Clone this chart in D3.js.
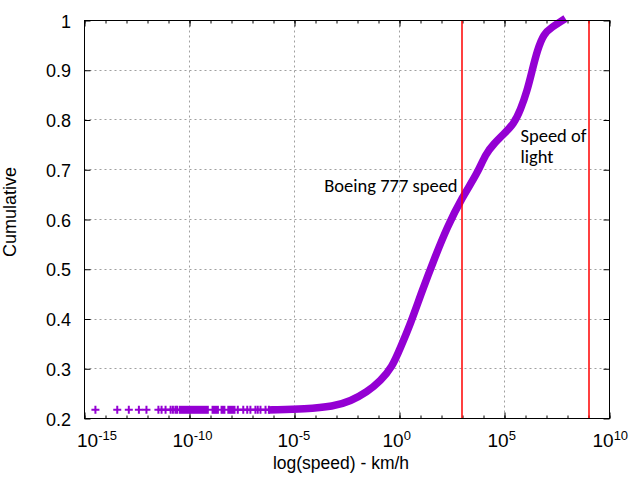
<!DOCTYPE html>
<html>
<head>
<meta charset="utf-8">
<script src="https://cdn.jsdelivr.net/npm/d3@7"></script>
<style>
  body { margin: 0; background: #fff; }
</style>
</head>
<body>
<script>
// cumulative curve, x read as log10(speed in km/h)
var curveLogSpeed = [-6.06, -4.5, -3.14, -2.33, -1.54, -0.9, -0.35, 0.05, 0.52, 1.08, 1.63, 2.27, 2.99, 3.7, 4.1, 4.49, 4.97, 5.44, 5.76, 6.08, 6.32, 6.56, 6.87, 7.27, 7.75];
var curveCum = [0.2175, 0.219, 0.224, 0.235, 0.253, 0.276, 0.303, 0.343, 0.39, 0.457, 0.518, 0.585, 0.645, 0.692, 0.732, 0.752, 0.772, 0.792, 0.82, 0.859, 0.9, 0.94, 0.974, 0.987, 1.0];

// lone points at the slow end (all at the same cumulative level)
var pointLogSpeed = [-14.48, -13.44, -12.89, -12.41, -12.05, -11.48, -11.33, -11.14, -10.9, -10.79, -10.67, -10.59, -7.7, -7.44, -7.25, -7.1, -6.86, -6.75, -6.62, -6.38, -6.22];
var pointCum = 0.2175;
// runs where the points are packed solid
var denseFrom = [-10.51, -8.95, -8.52, -8.2];
var denseTo = [-9.08, -8.6, -8.29, -7.81];

var boeingSpeed = 905;       // km/h
var lightSpeed = 1.08e9;     // km/h

var xTickExp = [-15, -10, -5, 0, 5, 10];
var yTicks = [0.2, 0.3, 0.4, 0.5, 0.6, 0.7, 0.8, 0.9, 1];

var width = 640, height = 480;
var pLeft = 84.5, pRight = 609.5, pTop = 20.5, pBottom = 418.5;
var purple = '#9400d3';

var svg = d3.select('body').append('svg')
    .attr('width', width)
    .attr('height', height)
    .style('font-family', '"Liberation Sans", Arial, sans-serif');

svg.append('rect').attr('width', width).attr('height', height).attr('fill', '#fff');

var xScale = d3.scaleLog().domain([1e-15, 1e10]).range([pLeft, pRight]);
var yScale = d3.scaleLinear().domain([0.2, 1]).range([pBottom, pTop]);

var majorX = xTickExp.map(function(e) { return Math.pow(10, e); });
var minorX = d3.range(-15, 11).map(function(e) { return Math.pow(10, e); });

function crisp(v) { return Math.round(v - 0.5) + 0.5; }

// dashed grid
var grid = svg.append('g').attr('stroke', '#a0a0a0').attr('stroke-dasharray', '2,3').attr('stroke-width', 1);
grid.selectAll('line.gx')
    .data(majorX.slice(1, -1))
    .enter().append('line')
    .attr('class', 'gx')
    .attr('x1', function(d) { return crisp(xScale(d)); })
    .attr('x2', function(d) { return crisp(xScale(d)); })
    .attr('y1', pTop).attr('y2', pBottom);
grid.selectAll('line.gy')
    .data(yTicks.slice(1, -1))
    .enter().append('line')
    .attr('class', 'gy')
    .attr('y1', function(d) { return crisp(yScale(d)); })
    .attr('y2', function(d) { return crisp(yScale(d)); })
    .attr('x1', pLeft).attr('x2', pRight);

// ticks on all four sides, pointing inward
function tickAxis(axis, g) {
    g.call(axis);
    g.select('.domain').remove();
    g.selectAll('line').attr('stroke', '#000');
    g.selectAll('text').remove();
}
tickAxis(d3.axisBottom(xScale).tickValues(minorX).tickSize(-3), svg.append('g').attr('transform', 'translate(0,' + pBottom + ')'));
tickAxis(d3.axisBottom(xScale).tickValues(majorX).tickSize(-6), svg.append('g').attr('transform', 'translate(0,' + pBottom + ')'));
tickAxis(d3.axisTop(xScale).tickValues(minorX).tickSize(-3), svg.append('g').attr('transform', 'translate(0,' + pTop + ')'));
tickAxis(d3.axisTop(xScale).tickValues(majorX).tickSize(-6), svg.append('g').attr('transform', 'translate(0,' + pTop + ')'));
tickAxis(d3.axisLeft(yScale).tickValues(yTicks).tickSize(-6), svg.append('g').attr('transform', 'translate(' + pLeft + ',0)'));
tickAxis(d3.axisRight(yScale).tickValues(yTicks).tickSize(-6), svg.append('g').attr('transform', 'translate(' + pRight + ',0)'));

// the data
var plot = svg.append('g');
var yPts = yScale(pointCum);

plot.append('line')
    .attr('x1', xScale(Math.pow(10, -11.5))).attr('x2', xScale(Math.pow(10, curveLogSpeed[0])))
    .attr('y1', yPts).attr('y2', yPts)
    .attr('stroke', purple).attr('stroke-width', 2);

plot.selectAll('rect.dense')
    .data(denseFrom)
    .enter().append('rect')
    .attr('class', 'dense')
    .attr('x', function(d) { return xScale(Math.pow(10, d)); })
    .attr('width', function(d, i) { return xScale(Math.pow(10, denseTo[i])) - xScale(Math.pow(10, d)); })
    .attr('y', yPts - 4).attr('height', 8)
    .attr('fill', purple);

plot.selectAll('path.pt')
    .data(pointLogSpeed)
    .enter().append('path')
    .attr('class', 'pt')
    .attr('transform', function(d) { return 'translate(' + xScale(Math.pow(10, d)) + ',' + yPts + ')'; })
    .attr('d', 'M-4,0H4M0,-4V4')
    .attr('stroke', purple).attr('stroke-width', 2);

var line = d3.line()
    .x(function(d, i) { return xScale(Math.pow(10, curveLogSpeed[i])); })
    .y(function(d) { return yScale(d); })
    .curve(d3.curveBasis);

plot.append('path')
    .attr('d', line(curveCum))
    .attr('fill', 'none')
    .attr('stroke', purple)
    .attr('stroke-width', 7.5)
    .attr('stroke-linecap', 'square');

// red reference lines
svg.selectAll('line.ref')
    .data([boeingSpeed, lightSpeed])
    .enter().append('line')
    .attr('class', 'ref')
    .attr('x1', function(d) { return Math.round(xScale(d)); })
    .attr('x2', function(d) { return Math.round(xScale(d)); })
    .attr('y1', pTop).attr('y2', pBottom)
    .style('stroke', '#ff0000')
    .style('stroke-width', '1.5px');

// frame
svg.append('rect')
    .attr('x', pLeft).attr('y', pTop)
    .attr('width', pRight - pLeft).attr('height', pBottom - pTop)
    .attr('fill', 'none').attr('stroke', '#000').attr('stroke-width', 1);

// tick labels
svg.selectAll('text.yl')
    .data(yTicks)
    .enter().append('text')
    .attr('class', 'yl')
    .attr('x', 71)
    .attr('y', function(d) { return yScale(d) + 7; })
    .attr('text-anchor', 'end')
    .attr('font-size', 18)
    .text(function(d) { return +d.toFixed(1); });

var xl = svg.selectAll('text.xl')
    .data(xTickExp)
    .enter().append('text')
    .attr('class', 'xl')
    .attr('x', function(d) { return Math.max(xScale(Math.pow(10, d)) - 17, 77); })  // first label stays clear of the corner
    .attr('y', 447)
    .attr('font-size', 19);
xl.append('tspan').text('10');
xl.append('tspan').attr('dy', -7).attr('font-size', 13).text(function(d) { return d; });

// axis titles
svg.append('text')
    .attr('x', 341)
    .attr('y', 469)
    .attr('text-anchor', 'middle')
    .attr('font-size', 17.5)
    .text('log(speed) - km/h');

svg.append('text')
    .attr('transform', 'translate(16,212) rotate(-90)')
    .attr('text-anchor', 'middle')
    .attr('font-size', 18)
    .text('Cumulative');

// annotations
var note = svg.append('g').style('font-family', 'Carlito, Calibri, Lato, sans-serif').attr('font-size', 18.5).attr('fill', '#000');
note.append('text')
    .attr('x', xScale(boeingSpeed) - 4)
    .attr('y', yScale(0.655))
    .attr('text-anchor', 'end')
    .text('Boeing 777 speed');
note.append('text')
    .attr('x', xScale(Math.pow(10, 5.76)))
    .attr('y', yScale(0.755))
    .text('Speed of');
note.append('text')
    .attr('x', xScale(Math.pow(10, 5.76)))
    .attr('y', yScale(0.755) + 21)
    .text('light');
</script>
</body>
</html>
